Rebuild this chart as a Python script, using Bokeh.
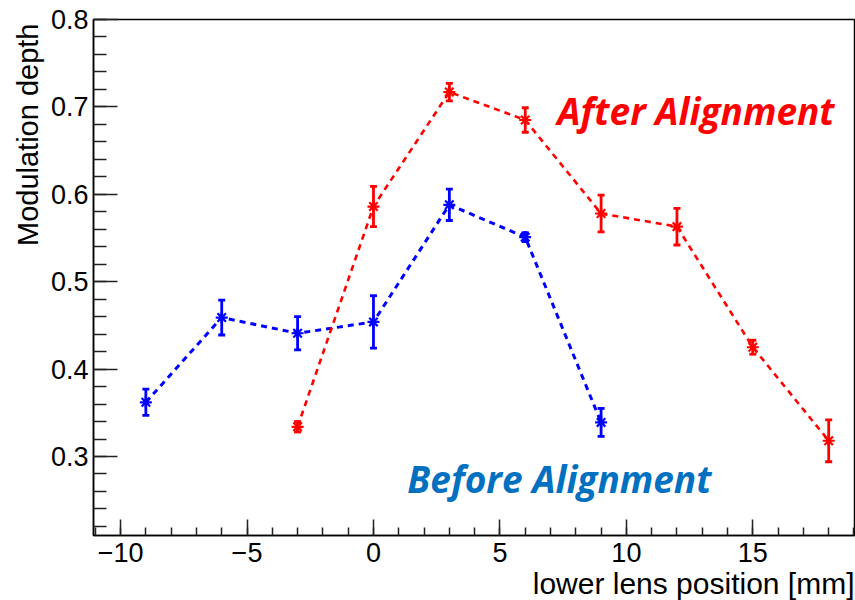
from bokeh.plotting import figure
from bokeh.models import Whisker, TeeHead, ColumnDataSource, FixedTicker, Label, Range1d, Title
from bokeh.embed import file_html
from bokeh.resources import INLINE

# ---- data ----
before_x = [-9, -6, -3, 0, 3, 6, 9]
before_y = [0.362, 0.459, 0.441, 0.454, 0.588, 0.551, 0.339]
before_err = [0.015, 0.020, 0.019, 0.030, 0.018, 0.005, 0.016]

after_x = [-3, 0, 3, 6, 9, 12, 15, 18]
after_y = [0.334, 0.586, 0.717, 0.685, 0.578, 0.563, 0.425, 0.318]
after_err = [0.006, 0.023, 0.010, 0.014, 0.021, 0.021, 0.008, 0.024]

x_ticks = [-10, -5, 0, 5, 10, 15]
x_tick_labels = ["\u221210", "\u22125", "0", "5", "10", "15"]
y_ticks = [0.3, 0.4, 0.5, 0.6, 0.7, 0.8]
y_tick_labels = ["0.3", "0.4", "0.5", "0.6", "0.7", "0.8"]

x_title = "lower lens position [mm]"
y_title = "Modulation depth"
after_text = "After Alignment"
before_text = "Before Alignment"

BLUE = "#0000ff"
RED = "#ff0000"
TEXT_BLUE = "#0070c0"

X_MIN, X_MAX = -11.07, 19.02
Y_MIN, Y_MAX = 0.2096, 0.8

p = figure(width=855, height=600,
           x_range=Range1d(X_MIN, X_MAX), y_range=Range1d(Y_MIN, Y_MAX),
           output_backend="svg", toolbar_location=None,
           min_border_left=93, min_border_top=19, min_border_right=1,
           min_border_bottom=65)
p.xgrid.visible = False
p.ygrid.visible = False
p.outline_line_color = "black"
p.outline_line_width = 1.5
p.background_fill_color = "white"
p.border_fill_color = "white"

# axes
xa = p.xaxis[0]
ya = p.yaxis[0]
xa.ticker = FixedTicker(ticks=x_ticks, minor_ticks=list(range(-11, 20)))
ya.ticker = FixedTicker(ticks=y_ticks, minor_ticks=[round(0.22 + 0.02 * i, 2) for i in range(30)])
xa.major_label_overrides = {t: l for t, l in zip(x_ticks, x_tick_labels)}
ya.major_label_overrides = {t: l for t, l in zip(y_ticks, y_tick_labels)}

for ax in (xa, ya):
    ax.axis_line_color = "black"
    ax.axis_line_width = 1.5
    ax.major_tick_line_color = "#222222"
    ax.minor_tick_line_color = "#222222"
    ax.major_tick_line_width = 1.5
    ax.minor_tick_line_width = 1.5
    ax.major_tick_out = 0
    ax.minor_tick_out = 0
    ax.major_label_text_font = "Liberation Sans"
    ax.major_label_text_font_size = "27px"
    ax.major_label_text_color = "black"

xa.major_tick_in = 16
xa.minor_tick_in = 8
ya.major_tick_in = 24
ya.minor_tick_in = 13
xa.major_label_standoff = 7
ya.major_label_standoff = 5

# axis titles (ROOT style: aligned to the axis end)
p.add_layout(Title(text=x_title, align="right", text_font="Liberation Sans",
                   text_font_size="30px", text_font_style="normal",
                   text_color="black", standoff=0, offset=0), "below")
p.add_layout(Title(text=y_title, align="right", text_font="Liberation Sans",
                   text_font_size="29px", text_font_style="normal",
                   text_color="black", standoff=8, offset=4), "left")

# series
src_b = ColumnDataSource(dict(x=before_x, y=before_y,
                              lo=[v - e for v, e in zip(before_y, before_err)],
                              hi=[v + e for v, e in zip(before_y, before_err)]))
src_a = ColumnDataSource(dict(x=after_x, y=after_y,
                              lo=[v - e for v, e in zip(after_y, after_err)],
                              hi=[v + e for v, e in zip(after_y, after_err)]))

p.line("x", "y", source=src_b, line_color=BLUE, line_width=3, line_dash="6 5")
p.line("x", "y", source=src_a, line_color=RED, line_width=2.6, line_dash="6 5")

for src, col in ((src_b, BLUE), (src_a, RED)):
    w = Whisker(base="x", lower="lo", upper="hi", source=src,
                line_color=col, line_width=2.8,
                upper_head=TeeHead(size=7, line_color=col, line_width=2.8),
                lower_head=TeeHead(size=7, line_color=col, line_width=2.8))
    p.add_layout(w)
    p.scatter("x", "y", source=src, marker="asterisk", size=12,
              line_color=col, line_width=2.2)

p.add_layout(Label(x=7.27, y=0.696, text=after_text, text_color=RED,
                   text_font="Open Sans", text_font_size="37px",
                   text_font_style="bold italic", text_baseline="alphabetic"))
p.add_layout(Label(x=1.34, y=0.275, text=before_text, text_color=TEXT_BLUE,
                   text_font="Open Sans", text_font_size="37px",
                   text_font_style="bold italic", text_baseline="alphabetic"))

open("out.html", "w").write(file_html(p, INLINE))
